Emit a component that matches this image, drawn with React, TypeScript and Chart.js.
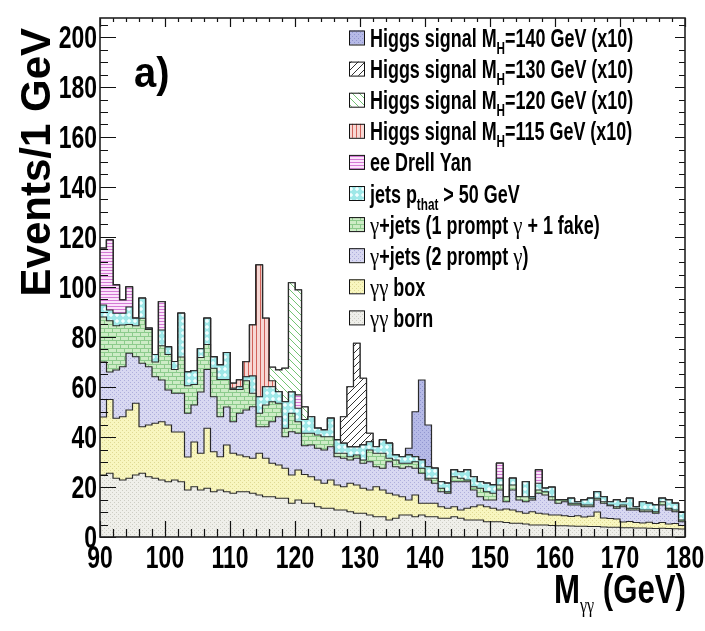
import { useEffect, useRef } from "react";
import { Chart, registerables } from "chart.js";

Chart.register(...registerables);

// ---------- axis ranges & tick labels ----------
const xMin = 90;
const xMax = 180;
const yMax = 207.6;
const xTickLabels = ["90", "100", "110", "120", "130", "140", "150", "160", "170", "180"];
const yTickLabels = ["0", "20", "40", "60", "80", "100", "120", "140", "160", "180", "200"];

// lower edges of the 1 GeV bins (90 ... 179)
const binLowEdges = Array.from({ length: 90 }, (_, i) => xMin + i);

// ---------- cumulative (stacked) heights, per bin ----------
const bornTop = [
  24.8, 25.5, 23.5, 22.8, 23.5, 24.8, 25.5, 24.1, 23.5, 22.8,
  22.1, 22.8, 22.1, 18.8, 20.1, 18.8, 19.5, 18.1, 18.8, 18.1,
  17.5, 18.1, 18.1, 17.5, 16.8, 16.1, 16.1, 15.5, 15.5, 13.5,
  14.8, 13.5, 13.5, 12.1, 11.5, 11.5, 10.8, 10.8, 10.1, 9.5,
  9.5, 8.8, 8.1, 8.1, 6.8, 7.5, 8.8, 8.8, 8.1, 8.8,
  8.1, 8.1, 7.5, 7.5, 8.1, 7.5, 6.8, 6.8, 6.8, 6.1,
  6.1, 6.1, 5.8, 5.5, 5.5, 5.2, 4.8, 4.8, 4.8, 4.6,
  4.5, 4.5, 4.4, 4.3, 4.3, 4.2, 4.2, 4.0, 3.9, 3.9,
  3.7, 3.7, 3.6, 3.6, 3.5, 3.4, 3.5, 3.4, 3.3, 3.2,
];
const boxTop = [
  48.0, 55.0, 47.5, 48.1, 50.8, 53.5, 44.1, 44.8, 45.5, 46.1,
  44.8, 42.0, 42.0, 32.0, 38.0, 33.5, 43.5, 34.1, 32.1, 36.8,
  33.5, 32.8, 32.1, 31.5, 33.5, 31.5, 29.5, 28.8, 27.5, 24.8,
  26.8, 25.0, 24.1, 22.8, 21.5, 22.8, 20.8, 20.1, 21.5, 20.8,
  19.5, 18.8, 20.1, 18.8, 17.5, 16.8, 16.1, 14.8, 16.8, 13.5,
  13.5, 13.5, 12.1, 11.5, 12.1, 10.8, 11.5, 12.1, 12.8, 12.1,
  11.5, 10.8, 11.2, 10.8, 10.1, 9.5, 10.1, 9.5, 9.2, 8.8,
  8.8, 8.5, 8.2, 8.5, 8.0, 8.3, 10.0, 7.6, 7.4, 7.2,
  6.0, 6.2, 5.8, 5.6, 5.9, 5.4, 5.8, 5.2, 5.4, 4.6,
];
const prompt2Top = [
  70.0, 66.0, 66.8, 68.1, 73.5, 72.1, 69.5, 68.1, 64.1, 62.8,
  58.8, 57.5, 57.5, 49.5, 52.8, 58.0, 67.0, 56.1, 48.1, 52.0,
  46.1, 49.5, 50.8, 52.1, 44.1, 44.1, 46.1, 48.1, 40.1, 42.1,
  41.5, 36.5, 36.8, 35.5, 34.8, 36.1, 32.1, 31.5, 30.8, 31.5,
  29.5, 30.1, 28.1, 27.5, 30.1, 28.1, 27.5, 28.1, 27.5, 25.5,
  22.8, 21.5, 18.1, 17.5, 22.1, 22.1, 22.1, 18.8, 16.1, 14.8,
  14.8, 18.8, 14.1, 18.8, 14.8, 14.1, 14.8, 17.5, 16.8, 14.8,
  13.5, 14.1, 12.8, 12.8, 12.1, 12.1, 14.8, 13.5, 12.5, 11.5,
  12.1, 10.8, 10.8, 10.1, 10.1, 9.5, 12.8, 10.8, 10.1, 6.1,
];
const fake1Top = [
  88.0, 86.5, 84.5, 84.8, 85.0, 84.5, 87.5, 83.0, 70.0, 76.5,
  73.0, 67.0, 72.0, 60.5, 61.0, 71.8, 77.0, 67.5, 63.0, 63.0,
  59.0, 59.0, 62.5, 57.5, 49.5, 52.8, 54.1, 53.5, 43.5, 49.5,
  46.1, 41.5, 41.5, 40.8, 40.1, 40.1, 33.5, 33.5, 32.1, 32.8,
  30.8, 34.8, 33.5, 33.5, 31.5, 30.8, 29.5, 29.5, 30.1, 27.5,
  23.5, 23.5, 19.5, 18.1, 24.1, 23.5, 22.8, 20.1, 19.5, 18.1,
  17.5, 20.8, 16.1, 20.8, 16.1, 16.1, 15.5, 18.8, 18.1, 16.1,
  14.8, 14.8, 13.5, 13.5, 12.8, 12.8, 15.5, 14.1, 12.8, 12.1,
  12.8, 11.5, 11.5, 10.8, 10.8, 10.1, 14.1, 11.5, 10.8, 6.8,
];
const jetsTop = [
  92.8, 90.8, 89.5, 89.5, 92.0, 87.5, 95.5, 83.5, 73.0, 82.8,
  76.0, 70.2, 89.5, 66.0, 66.5, 75.3, 87.5, 72.0, 68.8, 73.8,
  59.5, 60.1, 64.1, 64.4, 56.1, 60.1, 60.1, 58.1, 54.1, 58.0,
  51.5, 47.0, 48.1, 43.5, 42.8, 47.5, 38.8, 37.5, 36.0, 36.0,
  36.8, 38.1, 36.1, 38.8, 37.5, 32.8, 32.1, 32.8, 32.1, 30.8,
  28.1, 27.5, 22.1, 21.5, 26.8, 26.1, 26.8, 24.1, 22.1, 21.5,
  20.8, 23.5, 16.1, 23.5, 16.1, 22.1, 16.1, 21.5, 19.5, 19.9,
  14.8, 14.8, 15.5, 14.1, 14.8, 15.5, 18.1, 16.1, 14.1, 14.8,
  14.1, 15.5, 12.1, 14.1, 13.5, 12.8, 15.5, 14.8, 13.5, 10.1,
];
const drellYanTop = [
  115.5, 118.8, 100.8, 94.8, 100.0, 87.5, 95.5, 83.5, 73.0, 94.1,
  76.0, 70.2, 89.5, 66.0, 66.5, 75.3, 87.5, 72.0, 68.8, 73.8,
  59.5, 60.1, 64.1, 64.4, 56.1, 60.1, 60.1, 58.1, 54.1, 58.0,
  56.8, 47.0, 48.1, 43.5, 42.8, 47.5, 38.8, 37.5, 36.0, 36.0,
  36.8, 38.1, 36.1, 38.8, 37.5, 32.8, 32.1, 32.8, 32.1, 30.8,
  28.1, 27.5, 22.1, 21.5, 26.8, 26.1, 26.8, 24.1, 22.1, 21.5,
  20.8, 29.5, 16.1, 23.5, 16.1, 22.1, 16.1, 26.8, 19.5, 19.9,
  14.8, 14.8, 15.5, 14.1, 14.8, 15.5, 18.1, 16.1, 14.1, 14.8,
  14.1, 15.5, 12.1, 14.1, 13.5, 12.8, 15.5, 14.8, 13.5, 10.1,
];

// Higgs signals (x10), stacked on top: bins (lower edge, GeV) and stack-top heights
const h115Bins = [110, 111, 112, 113, 114, 115, 116];
const h115Top = [61.5, 62.8, 70.1, 84.8, 108.8, 87.5, 62.5];
const h120Bins = [116, 117, 118, 119, 120, 121];
const h120Top = [67.9, 66.8, 67.5, 101.7, 98.8, 52.0];
const h130Bins = [127, 128, 129, 130, 131];
const h130Top = [48.1, 60.1, 77.5, 63.5, 41.5];
const h140Bins = [137, 138, 139, 140];
const h140Top = [35.5, 50.1, 62.8, 44.8];

// ---------- helpers ----------
function overlay(base: number[], bins: number[], tops: number[]) {
  return base.map((v, i) => {
    const k = bins.indexOf(binLowEdges[i]);
    return k >= 0 ? Math.max(v, tops[k]) : v;
  });
}

function toSteps(vals: number[]) {
  const pts = vals.map((v, i) => ({ x: binLowEdges[i], y: v }));
  pts.push({ x: xMax, y: vals[vals.length - 1] });
  return pts;
}

function makePattern(w: number, h: number, draw: (g: CanvasRenderingContext2D) => void) {
  const c = document.createElement("canvas");
  c.width = w;
  c.height = h;
  const g = c.getContext("2d")!;
  draw(g);
  return g.createPattern(c, "repeat")!;
}

function dots(bg: string, fg: string) {
  return makePattern(4, 4, (g) => {
    g.fillStyle = bg;
    g.fillRect(0, 0, 4, 4);
    g.fillStyle = fg;
    g.fillRect(0, 0, 1, 1);
    g.fillRect(2, 2, 1, 1);
  });
}

function buildPatterns() {
  return {
    born: dots("#efefea", "#cdcdc4"),
    box: dots("#f8f6bf", "#dfd994"),
    prompt2: dots("#d8d8f1", "#aeaedb"),
    fake1: makePattern(8, 8, (g) => {
      g.fillStyle = "#cdecc6";
      g.fillRect(0, 0, 8, 8);
      g.fillStyle = "#8ccb8c";
      g.fillRect(0, 0, 8, 1);
      g.fillRect(0, 4, 8, 1);
      g.fillRect(0, 0, 1, 4);
      g.fillRect(4, 4, 1, 4);
    }),
    jets: makePattern(6, 6, (g) => {
      g.fillStyle = "#9ee8e8";
      g.fillRect(0, 0, 6, 6);
      g.fillStyle = "#f2ffff";
      g.beginPath();
      g.moveTo(3, 0.8);
      g.lineTo(5.2, 3);
      g.lineTo(3, 5.2);
      g.lineTo(0.8, 3);
      g.closePath();
      g.fill();
    }),
    dy: makePattern(4, 3, (g) => {
      g.fillStyle = "#fbe4fb";
      g.fillRect(0, 0, 4, 3);
      g.fillStyle = "#d57ad5";
      g.fillRect(0, 0, 4, 1);
    }),
    h115: makePattern(4, 4, (g) => {
      g.fillStyle = "#f7d8d4";
      g.fillRect(0, 0, 4, 4);
      g.fillStyle = "#d0625a";
      g.fillRect(0, 0, 1, 4);
    }),
    h120: makePattern(7, 7, (g) => {
      g.fillStyle = "#ffffff";
      g.fillRect(0, 0, 7, 7);
      g.strokeStyle = "#74c474";
      g.lineWidth = 1;
      g.beginPath();
      g.moveTo(-1, -1);
      g.lineTo(8, 8);
      g.moveTo(-1, 6);
      g.lineTo(1, 8);
      g.moveTo(6, -1);
      g.lineTo(8, 1);
      g.stroke();
    }),
    h130: makePattern(7, 7, (g) => {
      g.fillStyle = "#ffffff";
      g.fillRect(0, 0, 7, 7);
      g.strokeStyle = "#333333";
      g.lineWidth = 1;
      g.beginPath();
      g.moveTo(-1, 8);
      g.lineTo(8, -1);
      g.moveTo(-1, 1);
      g.lineTo(1, -1);
      g.moveTo(6, 8);
      g.lineTo(8, 6);
      g.stroke();
    }),
    h140: dots("#b6bae7", "#9196d0"),
  };
}

type Part = { t: string; font: string; sx: number; dy?: number };

function drawParts(ctx: CanvasRenderingContext2D, parts: Part[], x: number, y: number, align: "left" | "right" | "center" = "left") {
  const widths = parts.map((p) => {
    ctx.font = p.font;
    return ctx.measureText(p.t).width * p.sx;
  });
  const total = widths.reduce((a, b) => a + b, 0);
  let cx = align === "right" ? x - total : align === "center" ? x - total / 2 : x;
  parts.forEach((p, i) => {
    ctx.save();
    ctx.font = p.font;
    ctx.textAlign = "left";
    ctx.textBaseline = "alphabetic";
    ctx.translate(cx, y + (p.dy || 0));
    ctx.scale(p.sx, 1);
    ctx.fillText(p.t, 0, 0);
    ctx.restore();
    cx += widths[i];
  });
}

const SANS = '"Liberation Sans", Arial, Helvetica, sans-serif';
const SERIF = '"Liberation Serif", "Times New Roman", serif';

function legendParts(kind: string): Part[] {
  const F = `bold 26px ${SANS}`;
  const S = `bold 17px ${SANS}`;
  const G = `26px ${SERIF}`;
  const sx = 0.69;
  const T = (t: string): Part => ({ t, font: F, sx });
  const sub = (t: string): Part => ({ t, font: S, sx, dy: 7 });
  const g = (t: string): Part => ({ t, font: G, sx: 0.8 });
  switch (kind) {
    case "h140": return [T("Higgs signal M"), sub("H"), T("=140 GeV (x10)")];
    case "h130": return [T("Higgs signal M"), sub("H"), T("=130 GeV (x10)")];
    case "h120": return [T("Higgs signal M"), sub("H"), T("=120 GeV (x10)")];
    case "h115": return [T("Higgs signal M"), sub("H"), T("=115 GeV (x10)")];
    case "dy": return [T("ee Drell Yan")];
    case "jets": return [T("jets p"), sub("that"), T(" > 50 GeV")];
    case "fake1": return [g("γ"), T("+jets (1 prompt "), g("γ"), T(" + 1 fake)")];
    case "prompt2": return [g("γ"), T("+jets (2 prompt "), g("γ"), T(")")];
    case "box": return [g("γγ"), T(" box")];
    default: return [g("γγ"), T(" born")];
  }
}

const legendOrder = ["h140", "h130", "h120", "h115", "dy", "jets", "fake1", "prompt2", "box", "born"];

export default function App() {
  const ref = useRef<HTMLCanvasElement | null>(null);

  useEffect(() => {
    document.body.style.margin = "0";
    const canvas = ref.current!;
    const pats = buildPatterns();

    const h115Line = overlay(drellYanTop, h115Bins, h115Top);
    const h120Line = overlay(h115Line, h120Bins, h120Top);
    const h130Line = overlay(h120Line, h130Bins, h130Top);
    const h140Line = overlay(h130Line, h140Bins, h140Top);

    const layers: [string, number[], CanvasPattern][] = [
      ["γγ born", bornTop, pats.born],
      ["γγ box", boxTop, pats.box],
      ["γ+jets (2 prompt γ)", prompt2Top, pats.prompt2],
      ["γ+jets (1 prompt γ + 1 fake)", fake1Top, pats.fake1],
      ["jets pthat > 50 GeV", jetsTop, pats.jets],
      ["ee Drell Yan", drellYanTop, pats.dy],
      ["Higgs signal MH=115 GeV (x10)", h115Line, pats.h115],
      ["Higgs signal MH=120 GeV (x10)", h120Line, pats.h120],
      ["Higgs signal MH=130 GeV (x10)", h130Line, pats.h130],
      ["Higgs signal MH=140 GeV (x10)", h140Line, pats.h140],
    ];

    const datasets = layers.map(([label, vals, pat]) => ({
      label,
      data: toSteps(vals),
      stepped: "before" as const,
      fill: "origin" as const,
      backgroundColor: pat,
      borderColor: "#2a2a2a",
      borderWidth: 1.2,
      pointRadius: 0,
    }));

    const decor = {
      id: "rootDecor",
      afterDraw(chart: any) {
        const ctx: CanvasRenderingContext2D = chart.ctx;
        const a = chart.chartArea;
        const xs = chart.scales.x;
        const ys = chart.scales.y;
        ctx.save();
        ctx.strokeStyle = "#111";
        ctx.lineWidth = 1.2;
        ctx.beginPath();
        for (let v = xMin; v <= xMax; v += 2) {
          const px = Math.round(xs.getPixelForValue(v)) + 0.5;
          const major = v % 10 === 0;
          ctx.moveTo(px, a.bottom);
          ctx.lineTo(px, a.bottom - (major ? 16 : 8));
          ctx.moveTo(px, a.top);
          ctx.lineTo(px, a.top + (major ? 9 : 4));
        }
        for (let v = 0; v <= 205; v += 5) {
          const py = Math.round(ys.getPixelForValue(v)) + 0.5;
          const major = v % 20 === 0;
          ctx.moveTo(a.left, py);
          ctx.lineTo(a.left + (major ? 16 : 8), py);
          ctx.moveTo(a.right, py);
          ctx.lineTo(a.right - (major ? 10 : 6), py);
        }
        ctx.stroke();
        ctx.lineWidth = 1.6;
        ctx.strokeStyle = "#222";
        ctx.strokeRect(a.left, a.top, a.right - a.left, a.bottom - a.top);

        ctx.fillStyle = "#000";
        const tickFont = `bold 31px ${SANS}`;
        xTickLabels.forEach((s) => {
          const px = xs.getPixelForValue(Number(s));
          drawParts(ctx, [{ t: s, font: tickFont, sx: 0.74 }], px, 568, "center");
        });
        yTickLabels.forEach((s) => {
          const py = ys.getPixelForValue(Number(s));
          drawParts(ctx, [{ t: s, font: tickFont, sx: 0.74 }], 97, py + 11, "right");
        });

        // x title
        drawParts(
          ctx,
          [
            { t: "M", font: `bold 40px ${SANS}`, sx: 0.78 },
            { t: "γγ", font: `20px ${SERIF}`, sx: 0.8, dy: 9 },
            { t: " (GeV)", font: `bold 40px ${SANS}`, sx: 0.78 },
          ],
          686,
          603,
          "right"
        );

        // y title
        ctx.save();
        ctx.translate(50, 28);
        ctx.rotate(-Math.PI / 2);
        ctx.font = `bold 42px ${SANS}`;
        ctx.textAlign = "right";
        ctx.textBaseline = "alphabetic";
        ctx.fillText("Events/1 GeV", 0, 0);
        ctx.restore();

        // panel label
        drawParts(ctx, [{ t: "a)", font: `bold 42px ${SANS}`, sx: 0.95 }], 134, 87);

        // legend
        legendOrder.forEach((k, i) => {
          const cy = 37.5 + i * 31.1;
          ctx.fillStyle = (pats as any)[k];
          ctx.fillRect(349, cy - 7, 15, 14);
          ctx.strokeStyle = "#111";
          ctx.lineWidth = 1;
          ctx.strokeRect(349.5, cy - 6.5, 15, 14);
          ctx.fillStyle = "#000";
          drawParts(ctx, legendParts(k), 370, cy + 9.5);
        });
        ctx.restore();
      },
    };

    const chart = new Chart(canvas, {
      type: "line",
      data: { datasets: datasets as any },
      options: {
        responsive: false,
        animation: false,
        devicePixelRatio: 1,
        layout: { padding: { left: 100, right: 20, top: 18, bottom: 94 } },
        scales: {
          x: { type: "linear", min: xMin, max: xMax, display: false },
          y: { type: "linear", min: 0, max: yMax, display: false },
        },
        plugins: { legend: { display: false }, tooltip: { enabled: false } },
        elements: { point: { radius: 0 }, line: { tension: 0 } },
      },
      plugins: [decor],
    });
    return () => chart.destroy();
  }, []);

  return (
    <div style={{ width: 705, height: 631, background: "#fff" }}>
      <canvas ref={ref} width={705} height={631} style={{ display: "block" }} />
    </div>
  );
}
